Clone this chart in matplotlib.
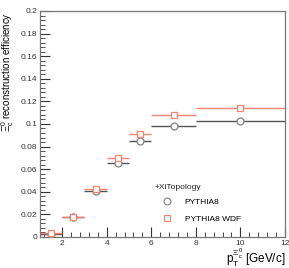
import numpy as np
import matplotlib
matplotlib.use("Agg")
import matplotlib.pyplot as plt
from matplotlib.ticker import MultipleLocator
from matplotlib.lines import Line2D

plt.rcParams['font.family'] = ['Liberation Sans', 'DejaVu Sans']
plt.rcParams['mathtext.fontset'] = 'custom'
plt.rcParams['mathtext.rm'] = 'Liberation Sans'
plt.rcParams['mathtext.it'] = 'Liberation Sans'

bin_lo = [1, 2, 3, 4, 5, 6, 8]
bin_hi = [2, 3, 4, 5, 6, 8, 12]
eff_pythia = [0.0024, 0.0172, 0.0410, 0.0658, 0.0850, 0.0980, 0.1027]
eff_wdf = [0.0033, 0.0180, 0.0425, 0.0696, 0.0909, 0.1077, 0.1145]

lo = np.array(bin_lo, float)
hi = np.array(bin_hi, float)
xc = (lo + hi) / 2
xerr = (hi - lo) / 2

fig = plt.figure(figsize=(2.89, 2.68), dpi=100)
ax = fig.add_axes([0.138, 0.116, 0.848, 0.843])

grey = '#7f7f7f'
red = '#f4836f'
ax.errorbar(xc, eff_pythia, xerr=xerr, fmt='o', mfc='white', mec=grey, ms=5,
            mew=0.9, ecolor='#555555', elinewidth=1.0, capsize=0, zorder=3)
ax.errorbar(xc, eff_wdf, xerr=xerr, fmt='s', mfc='white', mec=red, ms=5,
            mew=0.9, ecolor=red, elinewidth=1.0, capsize=0, zorder=3)

ax.set_xlim(1, 12)
ax.set_ylim(0, 0.2)
ax.xaxis.set_minor_locator(MultipleLocator(0.4))
ax.yaxis.set_minor_locator(MultipleLocator(0.004))
ax.set_yticks([0, 0.02, 0.04, 0.06, 0.08, 0.1, 0.12, 0.14, 0.16, 0.18, 0.2])
ax.set_yticklabels(['0', '0.02', '0.04', '0.06', '0.08', '0.1', '0.12', '0.14', '0.16', '0.18', '0.2'])
ax.set_xticks([2, 4, 6, 8, 10, 12])
ax.set_xticklabels(['2', '4', '6', '8', '10', '12'])
ax.tick_params(which='both', direction='in', top=False, right=False,
               labelsize=6, colors='#333333', pad=2)
ax.tick_params(which='major', length=7, width=0.8)
ax.tick_params(which='minor', length=3.5, width=0.6)
for s in ax.spines.values():
    s.set_color('#777777')
    s.set_linewidth(0.9)

ax.set_xlabel(r'p$_{\mathrm{T}}^{\Xi_{c}^{0}}$ [GeV/c]', fontsize=8.5,
              loc='right', labelpad=0)
ax.set_ylabel(r'$\Xi_{c}^{0}$ reconstruction efficiency', fontsize=7.0,
              loc='top')
ax.yaxis.set_label_coords(-0.097, 0.995)

ax.text(0.469, 0.22, '+XiTopology', transform=ax.transAxes, fontsize=6,
        ha='left', va='center', color='#222222')
handles = [Line2D([], [], ls='none', marker='o', mfc='white', mec=grey, ms=5, mew=0.8),
           Line2D([], [], ls='none', marker='s', mfc='white', mec=red, ms=5, mew=0.8)]
leg = ax.legend(handles, ['PYTHIA8', 'PYTHIA8 WDF'], loc='upper left',
                bbox_to_anchor=(0.502, 0.172), frameon=False, fontsize=6,
                borderpad=0, borderaxespad=0, handletextpad=1.6,
                labelspacing=1.1, handlelength=1.0)

fig.savefig('out.png', dpi=100)
